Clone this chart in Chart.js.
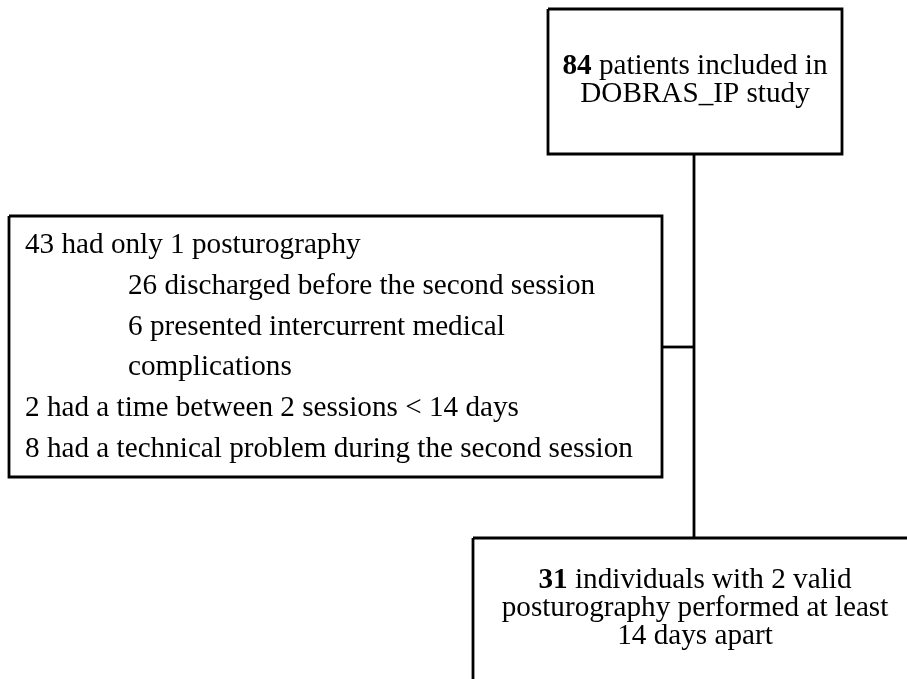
<!DOCTYPE html>
<html lang="en">
<head>
    <meta charset="UTF-8">
    <title>DOBRAS_IP flow chart</title>
    <script src="https://cdn.jsdelivr.net/npm/chart.js@4/dist/chart.umd.min.js"></script>
    <style>
        html, body { margin: 0; padding: 0; background: #fff; }
        canvas { display: block; }
    </style>
</head>
<body>
    <canvas id="flowChart" width="907" height="679"></canvas>
    <script>
        // flow counts and texts
        var includedCount = 84;
        var includedText = ['patients included in', 'DOBRAS_IP study'];
        var finalCount = 31;
        var finalText = ['individuals with 2 valid', 'posturography performed at least', '14 days apart'];
        var exclusionCounts = [43, 26, 6, 2, 8];
        var exclusionTexts = [
            ['had only 1 posturography'],
            ['discharged before the second session'],
            ['presented intercurrent medical', 'complications'],
            ['had a time between 2 sessions < 14 days'],
            ['had a technical problem during the second session']
        ];
        var exclusionSub = [false, true, true, false, false];

        // layout, in page pixels (the scales map 1:1 to the canvas)
        var layout = {
            topBox: { x0: 548, y0: 9, x1: 842, y1: 154 },
            sideBox: { x0: 9, y0: 216, x1: 662, y1: 477 },
            bottomBox: { x0: 473, y0: 538, x1: 917, y1: 710 },
            trunkX: 694,
            branchY: 347,
            centerX: 695,
            topFirstBase: 74,
            bottomFirstBase: 588,
            centerLineGap: 28,
            sideTextX: 25,
            sideIndentX: 128,
            sideFirstBase: 253,
            sideLineGap: 40.8,
            font: '"Liberation Serif", "Times New Roman", serif',
            fontSize: 29.2
        };

        function rect(b) {
            return [
                { x: b.x0, y: b.y0 }, { x: b.x1, y: b.y0 },
                { x: b.x1, y: b.y1 }, { x: b.x0, y: b.y1 }, { x: b.x0, y: b.y0 }
            ];
        }

        function lineSet(points) {
            return {
                data: points,
                showLine: true,
                borderColor: '#000',
                borderWidth: 2.8,
                borderJoinStyle: 'miter',
                borderCapStyle: 'butt',
                pointRadius: 0,
                tension: 0,
                fill: false,
                clip: false
            };
        }

        var datasets = [
            lineSet(rect(layout.topBox)),
            lineSet(rect(layout.sideBox)),
            lineSet(rect(layout.bottomBox)),
            lineSet([{ x: layout.trunkX, y: layout.topBox.y1 }, { x: layout.trunkX, y: layout.bottomBox.y0 }]),
            lineSet([{ x: layout.sideBox.x1, y: layout.branchY }, { x: layout.trunkX, y: layout.branchY }])
        ];

        function fontStr(bold) {
            return (bold ? 'bold ' : '') + layout.fontSize + 'px ' + layout.font;
        }

        // draws "count rest" with the count in bold, centred or left aligned
        function richLine(ctx, boldPart, rest, px, py, centered) {
            ctx.font = fontStr(true);
            var bw = boldPart ? ctx.measureText(boldPart).width : 0;
            ctx.font = fontStr(false);
            var restText = boldPart ? ' ' + rest : rest;
            var rw = ctx.measureText(restText).width;
            var start = centered ? px - (bw + rw) / 2 : px;
            ctx.textAlign = 'left';
            if (boldPart) {
                ctx.font = fontStr(true);
                ctx.fillText(boldPart, start, py);
            }
            ctx.font = fontStr(false);
            ctx.fillText(restText, start + bw, py);
        }

        var boxText = {
            id: 'boxText',
            afterDatasetsDraw: function (chart) {
                var ctx = chart.ctx;
                var sx = chart.scales.x, sy = chart.scales.y;
                ctx.save();
                ctx.fillStyle = '#000';
                ctx.textBaseline = 'alphabetic';

                var cx = sx.getPixelForValue(layout.centerX);
                includedText.forEach(function (t, i) {
                    var y = sy.getPixelForValue(layout.topFirstBase + i * layout.centerLineGap);
                    richLine(ctx, i === 0 ? String(includedCount) : '', t, cx, y, true);
                });
                finalText.forEach(function (t, i) {
                    var y = sy.getPixelForValue(layout.bottomFirstBase + i * layout.centerLineGap);
                    richLine(ctx, i === 0 ? String(finalCount) : '', t, cx, y, true);
                });

                var row = 0;
                exclusionCounts.forEach(function (n, k) {
                    var xv = exclusionSub[k] ? layout.sideIndentX : layout.sideTextX;
                    exclusionTexts[k].forEach(function (t, j) {
                        var y = sy.getPixelForValue(layout.sideFirstBase + row * layout.sideLineGap);
                        var txt = j === 0 ? n + ' ' + t : t;
                        richLine(ctx, '', txt, sx.getPixelForValue(xv), y, false);
                        row++;
                    });
                });
                ctx.restore();
            }
        };

        new Chart(document.getElementById('flowChart'), {
            type: 'scatter',
            data: { datasets: datasets },
            options: {
                responsive: false,
                animation: false,
                devicePixelRatio: 1,
                layout: { padding: 0 },
                plugins: { legend: { display: false }, tooltip: { enabled: false } },
                scales: {
                    x: { type: 'linear', min: 0, max: 907, display: false },
                    y: { type: 'linear', min: 0, max: 679, reverse: true, display: false }
                }
            },
            plugins: [boxText]
        });
    </script>
</body>
</html>
